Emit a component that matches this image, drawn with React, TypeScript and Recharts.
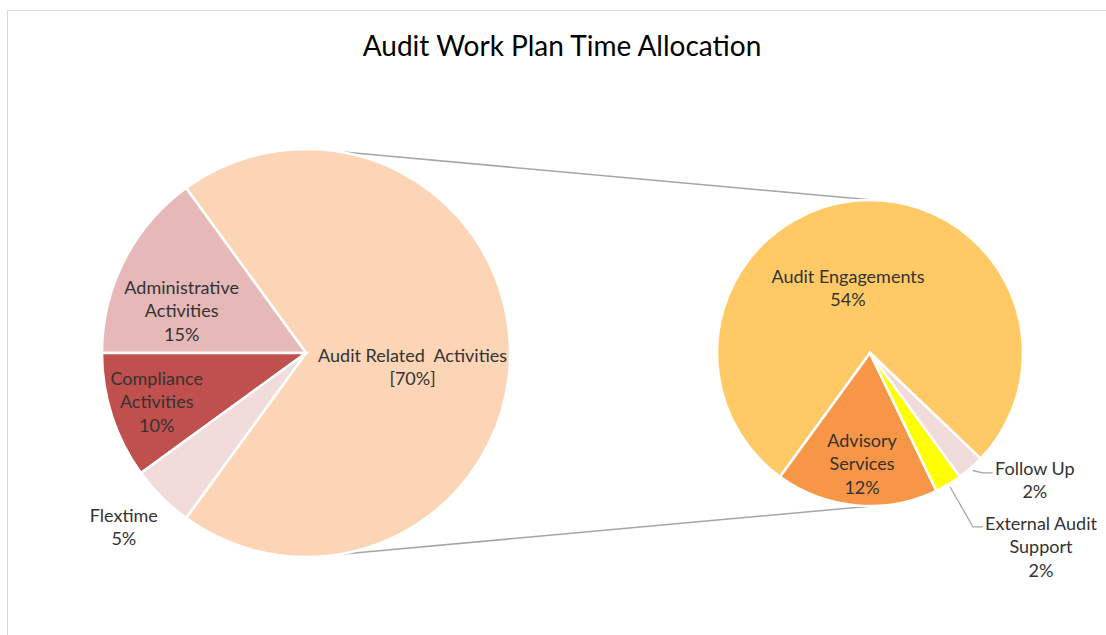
import { PieChart, Pie, Cell, Customized } from 'recharts';

// left pie: the whole work plan
const MAIN_NAMES = ['Audit Related  Activities', 'Administrative Activities', 'Compliance Activities', 'Flextime'];
const MAIN_VALUES = [70, 15, 10, 5];
const MAIN_COLORS = ['#FBD5B5', '#E6B9B8', '#C0504D', '#F2DCDB'];
const MAIN_LINES = [['Audit Related  Activities', '[70%]'], ['Administrative', 'Activities', '15%'], ['Compliance', 'Activities', '10%'], ['Flextime', '5%']];

// right pie: breakdown of the audit related slice
const SUB_NAMES = ['Audit Engagements', 'Advisory Services', 'External Audit Support', 'Follow Up'];
const SUB_VALUES = [54, 12, 2, 2];
const SUB_COLORS = ['#FFCA66', '#F79646', '#FFFF00', '#F2DCDB'];
const SUB_LINES = [['Audit Engagements', '54%'], ['Advisory', 'Services', '12%'], ['External Audit', 'Support', '2%'], ['Follow Up', '2%']];

const mainData = MAIN_NAMES.map((name, i) => ({ name, value: MAIN_VALUES[i] }));
const subData = SUB_NAMES.map((name, i) => ({ name, value: SUB_VALUES[i] }));

// layout
const W = 1106;
const H = 635;
const LEFT = { cx: 306, cy: 353, r: 204 };
const RIGHT = { cx: 870, cy: 353, r: 153 };
const FONT = 'Lato, "Noto Sans", sans-serif';
const LABEL_COLOR = '#333333';
const LINE_H = 23.5;

// label spots as [angle, fraction of radius] from the pie centre
const MAIN_SPOTS = [[-7.5, 0.527], [161.4, 0.643], [198.1, 0.77], [223.7, 1.235]];
const SUB_SPOTS = [[108.7, 0.448], [-94.1, 0.727], [-48.6, 1.69], [-37.6, 1.36]];
// leader lines for outside labels: elbow and end, relative to label centre
const SUB_LEADERS: Record<number, number[]> = { 2: [-68, -20, -58, -20], 3: [-52, -7, -42, -7] };

const RAD = Math.PI / 180;
const polar = (cx: number, cy: number, r: number, a: number) => ({ x: cx + r * Math.cos(a * RAD), y: cy - r * Math.sin(a * RAD) });

function makeLabel(lines: string[][], spots: number[][], leaders: Record<number, number[]>) {
  return (props: any) => {
    const { cx, cy, outerRadius, index, midAngle } = props;
    const [a, f] = spots[index];
    const c = polar(cx, cy, outerRadius * f, a);
    const ls = lines[index];
    const lead = leaders[index];
    let leader = null;
    if (lead) {
      const s = polar(cx, cy, outerRadius * 1.02, midAngle);
      leader = (
        <polyline
          points={`${s.x},${s.y} ${c.x + lead[0]},${c.y + lead[1]} ${c.x + lead[2]},${c.y + lead[3]}`}
          fill="none"
          stroke="#A6A6A6"
          strokeWidth={1.3}
        />
      );
    }
    return (
      <g>
        {leader}
        <text
          x={c.x}
          y={c.y}
          textAnchor="middle"
          fill={LABEL_COLOR}
          fontSize={18}
          fontFamily={FONT}
          style={{ whiteSpace: 'pre' }}
        >
          {ls.map((t, k) => (
            <tspan key={k} x={c.x} y={c.y + (k - (ls.length - 1) / 2) * LINE_H} dy="0.35em">
              {t}
            </tspan>
          ))}
        </text>
      </g>
    );
  };
}

// connector lines between the split slice and the second pie
const CONNECT_ANGLES = [[81, 89], [-81, -89]];
function Connectors() {
  return (
    <g>
      {CONNECT_ANGLES.map(([a, b], i) => {
        const p = polar(LEFT.cx, LEFT.cy, LEFT.r, a);
        const q = polar(RIGHT.cx, RIGHT.cy, RIGHT.r, b);
        return <line key={i} x1={p.x} y1={p.y} x2={q.x} y2={q.y} stroke="#A6A6A6" strokeWidth={1.5} />;
      })}
    </g>
  );
}

export default function App() {
  return (
    <div style={{ position: 'absolute', left: 0, top: 0, width: W, height: H, overflow: 'hidden', background: '#fff' }}>
      <div
        style={{
          position: 'absolute',
          left: 7,
          top: 10,
          width: W,
          height: H,
          border: '1.5px solid #D9D9D9',
        }}
      />
      <PieChart
        width={W}
        height={H}
        margin={{ top: 0, right: 0, bottom: 0, left: 0 }}
        style={{ position: 'absolute', left: 0, top: 0 }}
      >
        <text x={562} y={56} textAnchor="middle" fontSize={28} fontFamily={FONT} fill="#000">
          Audit Work Plan Time Allocation
        </text>
        <Customized component={Connectors} />
        <Pie
          data={mainData}
          dataKey="value"
          nameKey="name"
          cx={LEFT.cx}
          cy={LEFT.cy}
          outerRadius={LEFT.r}
          startAngle={-126}
          endAngle={234}
          stroke="#fff"
          strokeWidth={2.5}
          labelLine={false}
          label={makeLabel(MAIN_LINES, MAIN_SPOTS, {})}
          isAnimationActive={false}
        >
          {mainData.map((d, i) => (
            <Cell key={d.name} fill={MAIN_COLORS[i]} />
          ))}
        </Pie>
        <Pie
          data={subData}
          dataKey="value"
          nameKey="name"
          cx={RIGHT.cx}
          cy={RIGHT.cy}
          outerRadius={RIGHT.r}
          startAngle={-43.7}
          endAngle={316.3}
          stroke="#fff"
          strokeWidth={2.5}
          labelLine={false}
          label={makeLabel(SUB_LINES, SUB_SPOTS, SUB_LEADERS)}
          isAnimationActive={false}
        >
          {subData.map((d, i) => (
            <Cell key={d.name} fill={SUB_COLORS[i]} />
          ))}
        </Pie>
      </PieChart>
    </div>
  );
}
